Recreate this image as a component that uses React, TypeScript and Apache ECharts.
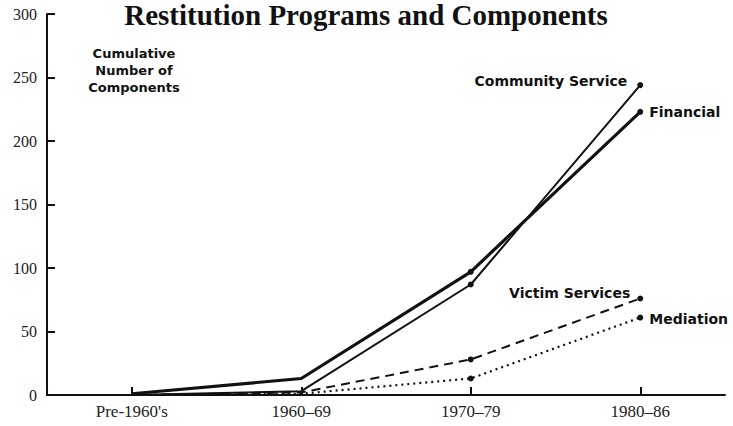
import React, { useEffect, useRef } from "react";
import * as echarts from "echarts";

const categories = ["Pre-1960's", "1960–69", "1970–79", "1980–86"];
const financial = [1, 13, 97, 223];
const communityService = [0, 3, 87, 244];
const victimServices = [0, 2, 28, 76];
const mediation = [0, 1, 13, 61];
const yTicks = { min: 0, max: 300, interval: 50 };

const serif = "Liberation Serif";
const sans = "DejaVu Sans";
const ink = "#111";

function withEndLabel(values: number[], name: string, position: string, offset: number[], distance: number) {
  const last = values.length - 1;
  return values.map((v, i) =>
    i === last
      ? {
          value: v,
          label: {
            show: true,
            formatter: name,
            position,
            distance,
            offset,
            fontFamily: sans,
            fontWeight: "bold",
            fontSize: 14,
            color: ink,
          },
        }
      : v
  );
}

export default function App() {
  const ref = useRef<HTMLDivElement>(null);
  useEffect(() => {
    if (!ref.current) return;
    const chart = echarts.init(ref.current, null, { renderer: "svg" });
    const symbolSize = (_v: any, p: any) => (p.dataIndex >= 2 ? 6 : 0);
    const base = {
      type: "line",
      symbol: "circle",
      symbolSize,
      showSymbol: true,
      itemStyle: { color: ink },
      z: 3,
    };
    chart.setOption({
      animation: false,
      backgroundColor: "#fff",
      grid: { left: 47, right: 8, top: 14, bottom: 31, containLabel: false },
      title: {
        text: "Restitution Programs and Components",
        left: 366,
        top: 0,
        padding: 0,
        textAlign: "center",
        textStyle: { fontFamily: serif, fontWeight: "bold", fontSize: 29, color: ink },
      },
      graphic: [
        {
          type: "text",
          x: 134,
          y: 45,
          style: {
            text: "Cumulative\nNumber of\nComponents",
            fontFamily: sans,
            fontWeight: "bold",
            fontSize: 13,
            lineHeight: 17,
            fill: ink,
            align: "center",
          },
        },
      ],
      xAxis: {
        type: "category",
        data: categories,
        boundaryGap: true,
        axisLine: { lineStyle: { color: ink, width: 2 } },
        axisTick: { show: true, inside: true, length: 8, alignWithLabel: true, lineStyle: { color: ink, width: 2 } },
        axisLabel: { fontFamily: serif, fontSize: 17, color: "#222", margin: 8 },
        splitLine: { show: false },
      },
      yAxis: {
        type: "value",
        min: yTicks.min,
        max: yTicks.max,
        interval: yTicks.interval,
        axisLine: { show: true, lineStyle: { color: ink, width: 2 } },
        axisTick: { show: true, inside: true, length: 8, lineStyle: { color: ink, width: 2 } },
        axisLabel: { fontFamily: serif, fontSize: 16, color: "#222", margin: 10 },
        splitLine: { show: false },
      },
      series: [
        {
          ...base,
          name: "Financial",
          data: withEndLabel(financial, "Financial", "right", [0, 0], 6),
          lineStyle: { color: ink, width: 3.2 },
        },
        {
          ...base,
          name: "Community Service",
          data: withEndLabel(communityService, "Community Service", "left", [0, -4], 10),
          lineStyle: { color: ink, width: 2 },
        },
        {
          ...base,
          name: "Victim Services",
          data: withEndLabel(victimServices, "Victim Services", "left", [0, -5], 7),
          lineStyle: { color: ink, width: 2, type: [9, 6] },
        },
        {
          ...base,
          name: "Mediation",
          data: withEndLabel(mediation, "Mediation", "right", [0, 1], 6),
          lineStyle: { color: ink, width: 2.2, type: [2, 4] },
        },
      ],
    });
    return () => chart.dispose();
  }, []);
  return <div ref={ref} style={{ width: 733, height: 426, position: "absolute", left: 0, top: 0 }} />;
}
